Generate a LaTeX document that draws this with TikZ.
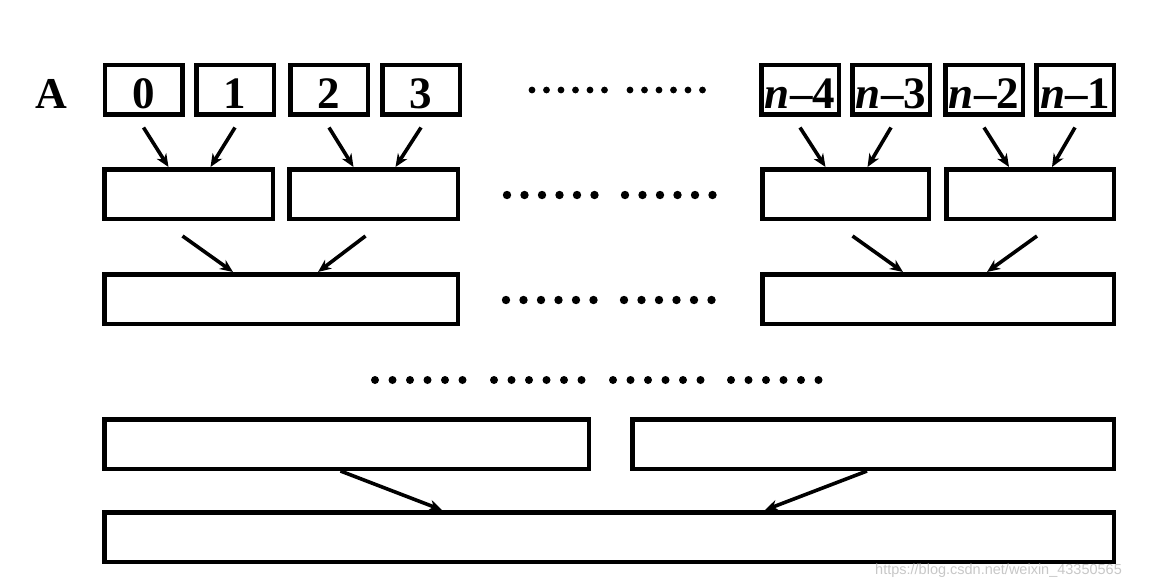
\documentclass[tikz,border=0pt]{standalone}
\usepackage{fontspec}
\setmainfont{Liberation Serif}
\newfontfamily\wmfont{Liberation Sans}
\usetikzlibrary{arrows.meta,calc}
\tikzset{
  box/.style={draw=black, line width=4.5pt, fill=white, inner sep=0pt, minimum height=49.5pt},
  numbox/.style={box, minimum width=77.5pt, font=\fontsize{45}{50}\selectfont\bfseries, text height=37pt, text depth=0pt},
  arr/.style={line width=3.6pt, -{Stealth[length=13pt,width=11pt,inset=4pt]}},
  dotfill/.style={fill=black}
}
\begin{document}
\begin{tikzpicture}[x=1pt,y=-1pt]
\useasboundingbox (0,0) rectangle (1156,584);
% label
\node[anchor=base, font=\fontsize{44}{50}\selectfont\bfseries, inner sep=0pt] (lblA) at (51,108) {A};
% row 1
\node[numbox] (b0) at (143.5,89.5) {0};
\node[numbox] (b1) at (235,89.5) {1};
\node[numbox] (b2) at (329,89.5) {2};
\node[numbox] (b3) at (421,89.5) {3};
\node[numbox] (n4) at (800,89.5) {\textit{n}–4};
\node[numbox] (n3) at (891,89.5) {\textit{n}–3};
\node[numbox] (n2) at (984,89.5) {\textit{n}–2};
\node[numbox] (n1) at (1075,89.5) {\textit{n}–1};
% row 2
\node[box, minimum width=168.5pt] (l2a) at (188.5,194) {};
\node[box, minimum width=168.5pt] (l2b) at (373.5,194) {};
\node[box, minimum width=166.5pt] (r2a) at (845.5,194) {};
\node[box, minimum width=167.5pt] (r2b) at (1030,194) {};
% row 3
\node[box, minimum width=353.5pt] (l3) at (281,299) {};
\node[box, minimum width=351.5pt] (r3) at (938,299) {};
% row 5
\node[box, minimum width=484.5pt] (l5) at (346.5,444) {};
\node[box, minimum width=481.5pt] (r5) at (873,444) {};
% row 6
\node[box, minimum width=1009.5pt] (b6) at (609,537) {};
% arrows row 1 -> row 2
\draw[arr] ([yshift=-11pt]b0.south) -- ([xshift=-20pt]l2a.north);
\draw[arr] ([yshift=-11pt]b1.south) -- ([xshift=22pt]l2a.north);
\draw[arr] ([yshift=-11pt]b2.south) -- ([xshift=-20pt]l2b.north);
\draw[arr] ([yshift=-11pt]b3.south) -- ([xshift=22pt]l2b.north);
\draw[arr] ([yshift=-11pt]n4.south) -- ([xshift=-20pt]r2a.north);
\draw[arr] ([yshift=-11pt]n3.south) -- ([xshift=22pt]r2a.north);
\draw[arr] ([yshift=-11pt]n2.south) -- ([xshift=-21pt]r2b.north);
\draw[arr] ([yshift=-11pt]n1.south) -- ([xshift=22pt]r2b.north);
% arrows row 2 -> row 3
\draw[arr] ([xshift=-6pt,yshift=-15pt]l2a.south) -- ([xshift=-48pt]l3.north);
\draw[arr] ([xshift=-8pt,yshift=-15pt]l2b.south) -- ([xshift=37pt]l3.north);
\draw[arr] ([xshift=7pt,yshift=-15pt]r2a.south) -- ([xshift=-35pt]r3.north);
\draw[arr] ([xshift=7pt,yshift=-15pt]r2b.south) -- ([xshift=49pt]r3.north);
% arrows row 5 -> row 6
\draw[arr] ([xshift=-6pt]l5.south) -- ([xshift=-167pt]b6.north);
\draw[arr] ([xshift=-6pt]r5.south) -- ([xshift=156pt]b6.north);
% dots
\foreach \s in {532,630} \foreach \i in {0,...,5} \fill[dotfill] (\s+14.5*\i,90) circle (3.4pt);
\foreach \s in {507,625} \foreach \i in {0,...,5} \fill[dotfill] (\s+17.5*\i,195) circle (4.2pt);
\foreach \s in {506,624} \foreach \i in {0,...,5} \fill[dotfill] (\s+17.5*\i,300) circle (4.2pt);
\foreach \s in {375,494,613,731} \foreach \i in {0,...,5} \fill[dotfill] (\s+17.5*\i,380) circle (4pt);
% watermark
\node[anchor=base west, inner sep=0pt, text=black!22, font=\wmfont\fontsize{14.5}{16}\selectfont] (wm) at (875,574) {https://blog.csdn.net/weixin\_43350565};
\end{tikzpicture}
\end{document}
